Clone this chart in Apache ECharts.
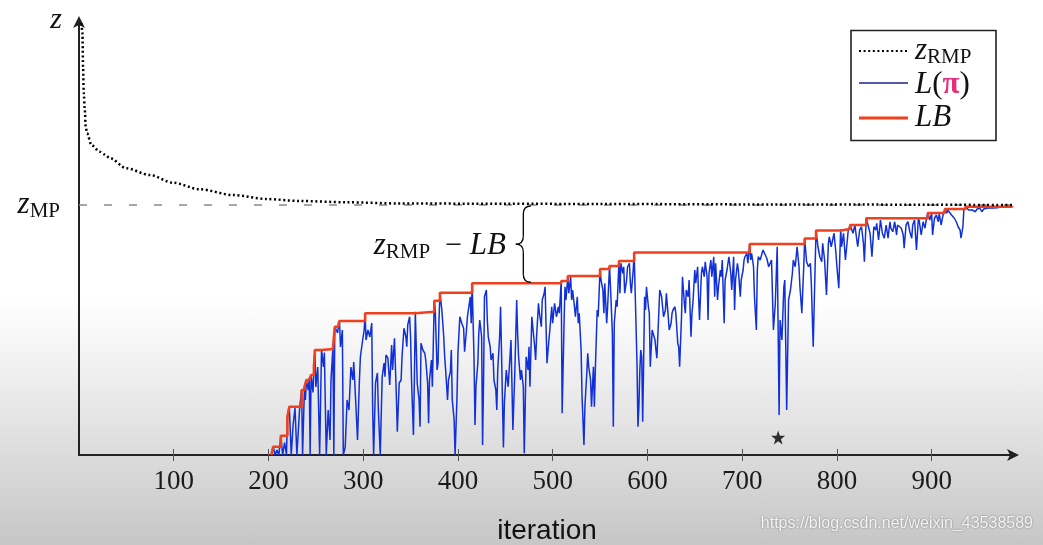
<!DOCTYPE html>
<html><head><meta charset="utf-8">
<script src="https://cdn.jsdelivr.net/npm/echarts@6.0.0/dist/echarts.min.js"></script>
<style>
html,body{margin:0;padding:0;width:1043px;height:545px;overflow:hidden;
background:linear-gradient(to bottom,#ffffff 0%,#ffffff 55%,#ededed 70%,#dadada 85%,#c6c6c6 100%);}
#c{width:1043px;height:545px;}
</style>
</head><body><div id="c"></div>
<script>
// ---- data ----
const xTicks = [100, 200, 300, 400, 500, 600, 700, 800, 900];
const zMP = 100;
const starPoint = [[738, 7]];

const zRmp = [[2.6,172.7],[3.6,168.8],[4.3,155.3],[5,144.8],[6.1,138],[7.1,131.2],[8.5,128.7],[13.1,124],
[21.9,121.3],[27,120.2],[32.5,118.8],[50,114.7],[74.7,112],[99.3,108.9],[127.4,106.3],[162.6,104],
[197.8,102.4],[233,101.6],[282.3,101.1],[338.5,100.6],[450,100.5],[549.6,100.4],[760.6,100.2],[985.5,100]];

const lbSteps = [[203,0],[205,3.3],[213,7.7],[220,15.3],[222,19.3],[235,26],[238,27.3],[240,30],[243,30.7],
[245,32],[248,35.3],[249,42],[256,42.4],[268,42.9],[270,51.3],[274,52.4],[275,53.6],[302,56.7],[355,57.3],
[375,61.7],[381,64.9],[415,68.7],[509,69.6],[516,71.6],[550,74.4],[560,75.6],[570,77.6],[586,81],[708,84.4],
[766,86.6],[778,89.8],[804,90.4],[814,92],[831,94.7],[896,96.8],[914,98.4],[936,99.3],[985,99.6]];

const lPi = [[203,0],[205,3.3],[207,0],[209,2],[211,0],[213,7.7],[215,0],[217,5],[219,0],[220,15.3],[222,19.3],
[224,0],[226,12],[228,18.8],[230,0],[233,19.2],[235,26],[236,0],[238,27.3],[239,22],[240,30],[242,26],[243,30.7],
[244,0],[245,32],[247,25],[248,35.3],[249,42],[250,27.2],[252,35.2],[254,0],[256,42.4],[258,35.2],[259,41],
[261,0],[263,18],[265,6],[266,30],[268,42.9],[269,0],[270,51.3],[273,48.8],[274,52.4],[275,53.6],[276,43.2],
[278,50],[279,0],[281,3.2],[283,22],[285,18],[287,35.2],[289,30],[290,37.2],[292,22],[294,6],[296,30],
[297,39.2],[299,44.8],[301,50],[302,56.7],[303,46],[305,50],[307,47.2],[309,52.8],[310,18],[311,0],[313,28.8],
[315,32.8],[316,18],[318,0],[320,31.2],[322,36.8],
[323,31.3],[324,40],[326,38.8],[328,28],[330,44],[331,34],[333,46.7],[335,23.3],[336,9.3],[338,28.8],[340,30],
[341,39.3],[343,50.7],[345,47.3],[346,43.3],[347,52],[349,55.3],[350,47.3],[351,30],[353,8],[354,30],[355,57.3],
[356,43.3],[357,28.7],[359,22],[360,11.3],[361,44.7],[363,42],[365,40.7],[366,38],[368,28.7],[369,12.7],[370,30],
[372,38],[373,27.3],[375,61.7],[376,58],[378,34],[379,36.7],[380,54],[381,64.9],[383,58],[385,47.3],[386,39.3],
[387,34],[389,22],[390,30],[392,33.3],[393,42],[394,22],[396,14],[397,0],[399,23.3],[400,40.7],[402,55.3],
[403,54],[404,52.7],[406,50.7],[407,41.3],[409,50],[410,55.3],[411,58],[413,63.3],[414,52.7],[415,68.7],[417,38],
[418,12],[419,27.3],[421,36.7],[422,48.7],[423,54],[425,47.3],[426,4],[427,28.7],[428,63.3],[430,66],[431,54],
[432,47.3],[434,43.3],[435,38],[437,40.7],[438,30],[440,26],[441,18],[442,34],[444,47.3],[445,59.3],[446,40.7],
[448,3],[449,20.7],[451,34],[453,27.3],
[456,46],[458,10],[460,32.7],[462,62],[463,48.7],[464,39.3],[466,30],[467,34],[469,27.3],[470,0.7],[471,19.3],
[472,39.3],[474,34],[475,43.3],[476,27.3],[478,55.3],[479,51.3],[481,43.3],[482,38],[483,47.3],[485,60.7],
[486,56.7],[488,51.3],[489,62],[491,64.7],[492,67.3],[493,51.3],[494,36.7],[496,46],[497,50],[499,59.3],
[500,52.7],[502,60.7],[504,55.3],[506,59.3],[507,56.7],[509,69.6],[510,16.7],[512,52.7],[513,67.3],[514,62],
[516,71.6],[517,64.7],[519,71.3],[520,62],[521,66],[523,59.3],[524,55.3],[526,63.3],[527,52.7],[528,56.7],
[530,42],[531,23.3],[533,4],[534,19.3],[536,32.7],[537,40.7],[538,35.3],[540,30],[541,19.3],[543,35.3],
[544,19.3],[545,34],[547,58],[548,55.3],[550,74.4],[551,70],[553,66],[554,56.7],[555,68.7],[557,52.7],
[558,59.3],[560,75.6],[561,67.3],[563,48.7],[564,11.3],[565,52.7],[567,62],[568,59.3],[570,77.6],[571,64.7],
[572,76.7],[574,72.7],[575,75.3],[576,64.7],[578,70],[579,75.3],[581,76.7],[582,68.7],[583,64.7],[585,74],
[586,81],[587,80.7],
[589,36.7],[590,11.3],[591,19.3],[592,34],[593,42],[594,39.3],[595,13.3],[596,36.7],[597,63.3],[598,58],
[599,67.3],[601,59.3],[602,56.7],[603,35.3],[605,50],[606,50.7],[608,46],[609,42],[610,38.7],[612,56.7],
[613,66],[615,63.3],[616,59.3],[617,55.3],[619,58],[620,64.7],[622,55.3],[623,50],[625,52.7],[626,56.7],
[627,58],[629,59.3],[630,56.7],[632,44.7],[633,43.3],[634,35.3],[636,55.3],[637,71.3],[639,60.7],[640,56.7],
[641,66],[643,63.3],[644,70],[646,47.3],[647,56.7],[648,60.7],[650,74],[651,68.7],[653,75.3],[654,63.3],
[655,54],[657,72.7],[658,75.3],[660,71.3],[661,77.3],[663,71.3],[664,54],[665,72.7],[667,78],[668,71.3],
[670,79.3],[671,63.3],[672,76.7],[674,62],[675,67.3],[677,74],[678,71.3],[679,78],[681,52.7],[682,70],
[684,74],[685,76.7],[686,79.3],[688,72.7],[689,66],[691,79.3],[692,58],[693,70],[695,76.7],[696,74],
[698,63.3],[699,70],[701,74],[702,78],[703,79.3],[705,80.7],[706,76.7],[708,84.4],[709,78],[710,80.7],
[712,75.3],[713,63.3],[715,50],[716,74],[717,79.3],[719,78],
[722,82],[726,78.7],[728,75.3],[731,78],[733,50],[735,60.7],[737,83.3],[739,16],[740,54],[742,46],[744,67.3],
[745,70],[747,18],[749,62],[751,66],[753,72.7],[754,78],[756,75.3],[758,83.3],[760,75.3],[761,67.3],[763,56.7],
[765,75.3],[766,86.6],[768,77.3],[770,75.3],[772,76.7],[773,68.7],[775,43.3],[777,75.3],[778,89.8],[780,83.3],
[782,79.3],[784,77.3],[785,84.7],[787,78],[789,64],[791,84.7],[792,87.3],[794,83.3],[797,88.7],[799,80.7],
[800,75.3],[802,66.7],[804,90.4],[805,83.3],[807,88.7],[809,78],[812,90],[814,92],[815,90.8],[817,88.7],
[819,92],[821,86],[822,83.3],[824,90],[826,91.3],[828,84.7],[829,77.3],[831,94.7],[833,94],[835,88.7],
[837,79.3],[839,91.3],[841,90],[842,92.7],[844,86],[846,94],[848,88.7],
[850,86.7],[852,92],[854,86.7],[856,93.3],[857,90.7],[859,89.3],[861,93.3],[863,88],[864,92],[866,92.7],
[868,90.7],[870,88],[871,82.7],[873,92],[875,93.3],[877,89.3],[879,86.7],[880,92],[882,94],[884,82],
[886,94.6],[887,93.5],[889,88],[891,93.3],[893,90.7],[894,93.3],[896,96.8],[898,94],[900,96.7],[901,88],
[903,94.7],[905,96],[907,93.3],[908,96.6],[910,92],[912,96],[914,98.4],[916,96.7],[917,98],[919,97.3],
[921,96],[923,96.7],[924,94.7],[926,93.3],[928,91.3],[930,90],[931,86.7],[933,91.3],[934,98],[936,99.3],
[937,98.7],[939,98],[941,97.3],[943,98],[944,98.7],[946,97.3],[948,98.4],[950,98],[951,98.7],[953,97.3],
[955,98.4],[957,98],[958,98.7],[960,98.1],[962,98.9],[964,98.4],[965,98.8],[967,98.3],[969,98.9],[971,98.7],
[972,99.1],[974,98.7],[976,99.2],[978,98.9],[979,99.3],[981,99.2],[983,99.5],[985,99.6]];

const braceIter = 469;

// ---- chart ----
const SERIF = 'Liberation Serif';
const RED = '#f0401e', BLUE = '#1230d8';
const chart = echarts.init(document.getElementById('c'), null, {renderer: 'canvas'});

function tok(size, extra) {
  return Object.assign({fontFamily: SERIF, fontSize: size, color: '#111', fill: '#111'}, extra || {});
}
const mathRich = {
  z: tok(31, {fontStyle: 'italic'}),
  s: tok(21, {padding: [13, 0, 0, 0]}),
  i: tok(31, {fontStyle: 'italic'}),
  p: tok(31),
  pi: tok(31, {fontWeight: 'bold', color: '#e3307a', fill: '#e3307a'}),
  t: tok(30)
};

const star = 'path://M0,-10 L2.35,-3.24 L9.51,-3.09 L3.8,1.24 L5.88,8.09 L0,4 L-5.88,8.09 L-3.8,1.24 L-9.51,-3.09 L-2.35,-3.24 Z';

chart.setOption({
  animation: false,
  backgroundColor: 'transparent',
  grid: {left: 79, top: 20, right: 28, bottom: 90, containLabel: false, outerBoundsMode: 'none'},
  xAxis: [{
    type: 'value', min: 0, max: 988, interval: 100,
    name: 'iteration', nameLocation: 'middle', nameGap: 62,
    nameTextStyle: {fontFamily: 'Liberation Sans', fontSize: 28, color: '#111'},
    axisLine: {show: true, lineStyle: {color: '#222', width: 2.2}, symbol: ['none', 'arrow'], symbolSize: [9, 12], symbolOffset: [0, 4]},
    axisTick: {show: true, customValues: xTicks, inside: false, length: 6, lineStyle: {color: '#555', width: 1}},
    axisLabel: {show: true, customValues: xTicks, margin: 13, fontFamily: SERIF, fontSize: 27, color: '#1a1a1a'},
    splitLine: {show: false}
  }, {
    type: 'value', min: 0, max: 988, interval: 100, position: 'bottom',
    axisLine: {show: false},
    axisTick: {show: true, customValues: xTicks, inside: true, length: 6, lineStyle: {color: '#555', width: 1}},
    axisLabel: {show: false}, splitLine: {show: false}
  }],
  yAxis: {
    type: 'value', min: 0, max: 174,
    name: 'z', nameLocation: 'end', nameGap: 0,
    nameTextStyle: {fontFamily: SERIF, fontStyle: 'italic', fontSize: 30, color: '#111', align: 'right', verticalAlign: 'middle', padding: [0, 17, 6, 0]},
    axisLine: {show: true, lineStyle: {color: '#222', width: 2}, symbol: ['none', 'arrow'], symbolSize: [9, 12], symbolOffset: [0, 4]},
    axisTick: {show: false},
    axisLabel: {show: true, customValues: [zMP], margin: 19, formatter: () => '{z|z}{s|MP}', rich: mathRich},
    splitLine: {show: false}
  },
  series: [
    {type: 'line', name: 'L(π)', data: lPi, symbol: 'none', clip: true, z: 2,
     lineStyle: {color: BLUE, width: 1.5}},
    {type: 'line', name: 'LB', data: lbSteps, step: 'end', symbol: 'none', z: 3,
     lineStyle: {color: RED, width: 2.6}},
    {type: 'line', name: 'zRMP', data: zRmp, smooth: 0.3, smoothMonotone: 'x', symbol: 'none', z: 4,
     lineStyle: {color: '#000', width: 2.5, type: [2, 2.6]},
     markLine: {silent: true, symbol: 'none', label: {show: false}, z: 1,
       lineStyle: {type: [8, 17], color: '#8a8a8a', width: 1.5}, data: [{yAxis: zMP}]}},
    {type: 'scatter', name: 'star', data: starPoint, symbol: star, symbolSize: 14, z: 5,
     itemStyle: {color: '#000'}}
  ]
});

// brace annotation between zRMP and LB
function lbAt(it) { let v = 0; for (const s of lbSteps) { if (s[0] <= it) v = s[1]; } return v; }
const pTop = chart.convertToPixel({gridIndex: 0}, [braceIter, zMP]);
const pBot = chart.convertToPixel({gridIndex: 0}, [braceIter, lbAt(braceIter)]);
const xm = pTop[0], y0 = pTop[1] + 1, y1 = pBot[1] - 1, ym = (y0 + y1) / 2, w = 7.5, r = 8;
const bs = {stroke: '#000', lineWidth: 1.3, fill: 'none'};
function bez(xa, ya, cx, cy, xb, yb) {
  return {type: 'bezierCurve', z: 10, shape: {x1: xa, y1: ya, cpx1: cx, cpy1: cy, x2: xb, y2: yb}, style: bs};
}
function seg(xa, ya, xb, yb) {
  return {type: 'line', z: 10, shape: {x1: xa, y1: ya, x2: xb, y2: yb}, style: bs};
}

chart.setOption({
  graphic: [
    bez(xm + w, y0, xm, y0, xm, y0 + r),
    seg(xm, y0 + r, xm, ym - r),
    bez(xm, ym - r, xm, ym, xm - w, ym),
    bez(xm - w, ym, xm, ym, xm, ym + r),
    seg(xm, ym + r, xm, y1 - r),
    bez(xm, y1 - r, xm, y1, xm + w, y1),
    {type: 'text', x: xm - w - 10, y: ym + 2, z: 10,
     style: {text: '{z|z}{s|RMP}{t|  − }{i|LB}', rich: mathRich, align: 'right', verticalAlign: 'middle'}},
    // legend box
    {type: 'rect', shape: {x: 851, y: 30.5, width: 145, height: 110}, style: {fill: '#fff', stroke: '#222', lineWidth: 1.6}, z: 20},
    {type: 'line', shape: {x1: 859, y1: 51, x2: 908, y2: 51}, style: {stroke: '#000', lineWidth: 2.2, lineDash: [2, 2.6]}, z: 21},
    {type: 'text', x: 915, y: 51, z: 21, style: {text: '{z|z}{s|RMP}', rich: mathRich, verticalAlign: 'middle'}},
    {type: 'line', shape: {x1: 859, y1: 83, x2: 908, y2: 83}, style: {stroke: '#1d1f8a', lineWidth: 1.4}, z: 21},
    {type: 'text', x: 915, y: 85, z: 21, style: {text: '{i|L}{p|(}{pi|π}{p|)}', rich: mathRich, verticalAlign: 'middle'}},
    {type: 'line', shape: {x1: 859, y1: 118, x2: 908, y2: 118}, style: {stroke: RED, lineWidth: 3}, z: 21},
    {type: 'text', x: 915, y: 118, z: 21, style: {text: '{i|LB}', rich: mathRich, verticalAlign: 'middle'}},
    // watermark
    {type: 'text', x: 1033, y: 524, z: 30,
     style: {text: 'https://blog.csdn.net/weixin_43538589', fontFamily: 'Liberation Sans', fontSize: 16,
       fill: '#f4f4f4', align: 'right', verticalAlign: 'middle',
       textShadowColor: 'rgba(0,0,0,0.45)', textShadowBlur: 2}}
  ]
});
</script>
</body></html>
